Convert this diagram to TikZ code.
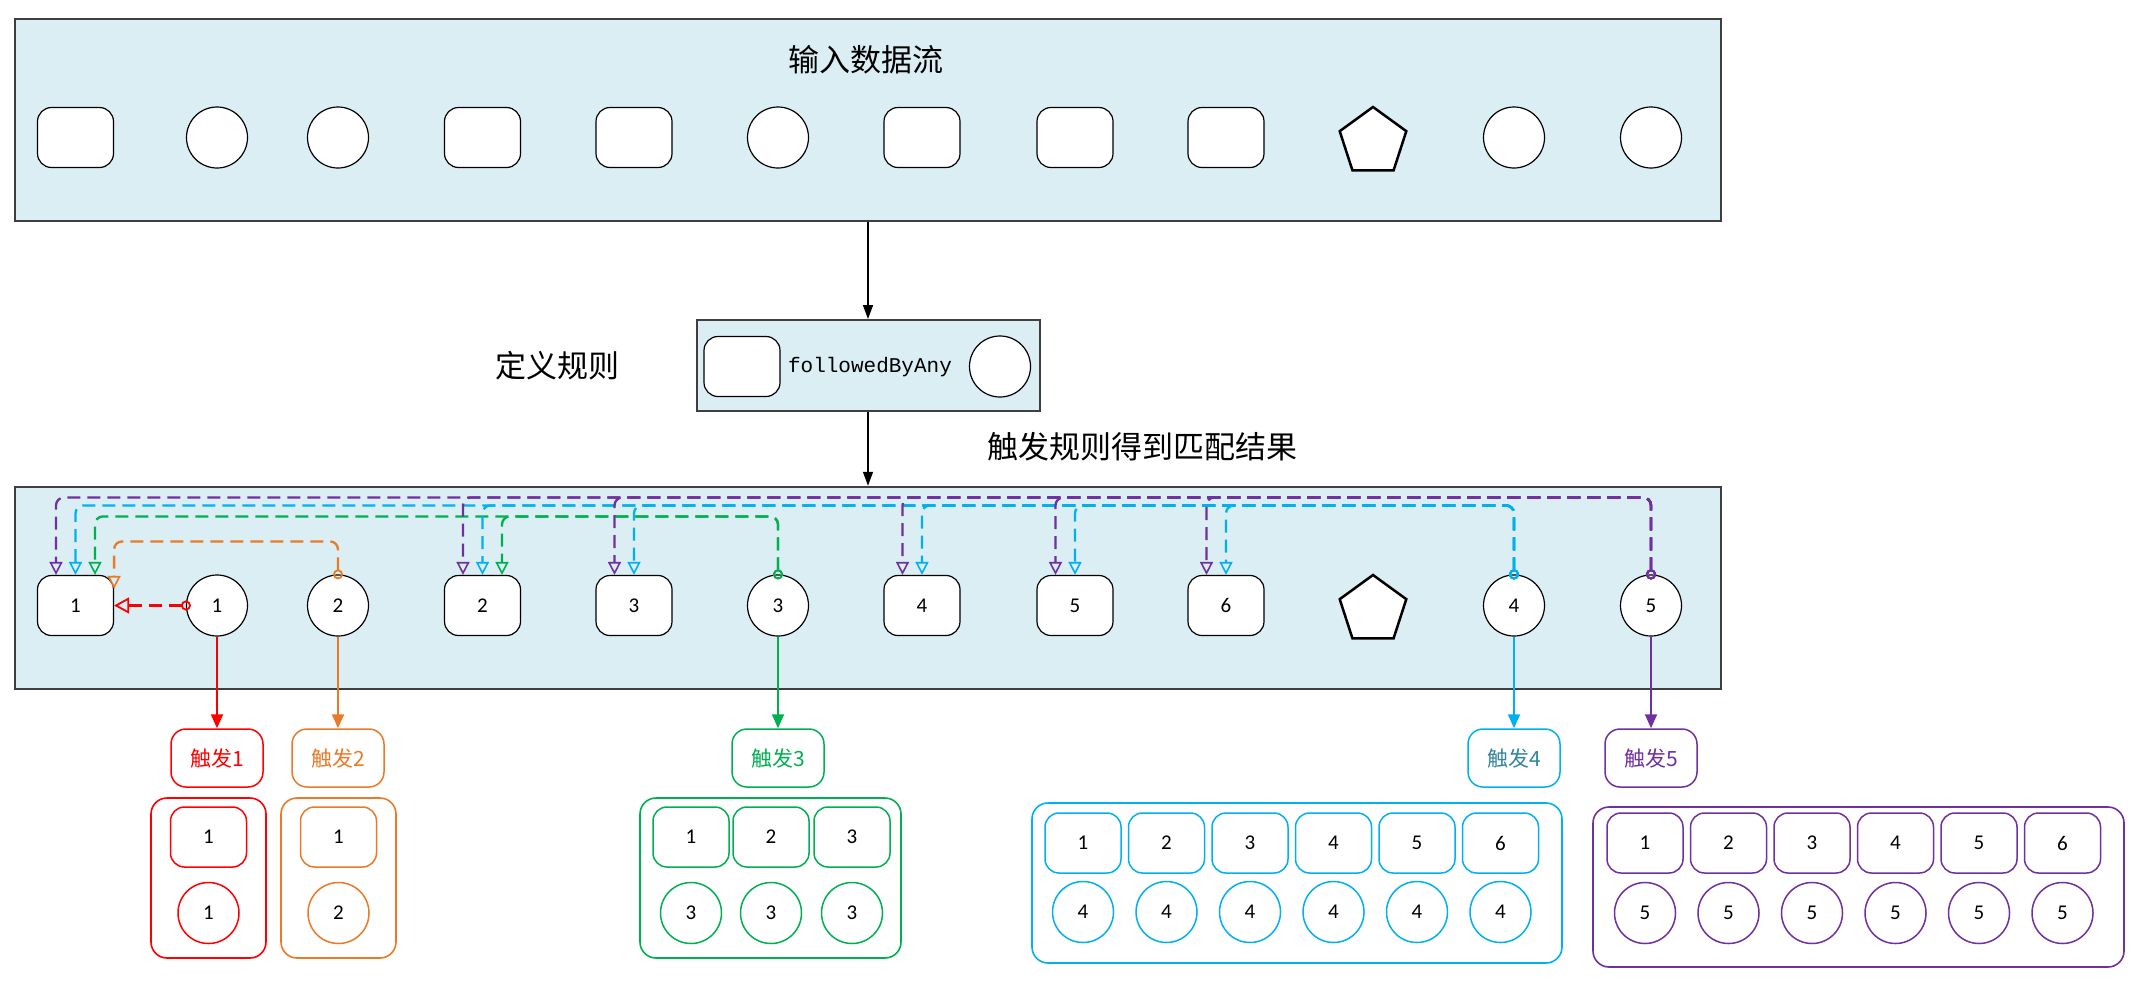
\documentclass[tikz,border=0pt]{standalone}
\usepackage{fontspec}
\setmainfont{Carlito}
\newfontfamily\cjk{Noto Sans CJK SC}
\newfontfamily\codefont{Liberation Mono}
\usetikzlibrary{arrows.meta}
\usetikzlibrary{shapes.geometric}
\usetikzlibrary{calc}
\definecolor{BoxFill}{HTML}{DAEEF3}
\definecolor{BoxLine}{HTML}{3F3F3F}
\definecolor{MatchRed}{HTML}{FF0000}
\definecolor{MatchOrange}{HTML}{E97A28}
\definecolor{MatchGreen}{HTML}{00B050}
\definecolor{MatchCyan}{HTML}{00B0F0}
\definecolor{MatchPurple}{HTML}{7030A0}
\definecolor{MatchTeal}{HTML}{31859C}
\tikzstyle{StreamBox}=[rectangle, draw=BoxLine, line width=2.5pt, fill=BoxFill, inner sep=0pt]
\tikzstyle{EventNode}=[rectangle, rounded corners=14pt, draw=black, line width=1.2pt, fill=white, minimum width=76pt, minimum height=60pt, inner sep=0pt, font=\fontsize{21}{24}\selectfont]
\tikzstyle{MatchNode}=[circle, draw=black, line width=1.2pt, fill=white, minimum size=61pt, inner sep=0pt, font=\fontsize{21}{24}\selectfont]
\tikzstyle{OtherNode}=[regular polygon, regular polygon sides=5, draw=black, line width=2.5pt, fill=white, minimum size=70pt, inner sep=0pt]
\tikzstyle{HeadText}=[font=\cjk\fontsize{31}{36}\selectfont, inner sep=0pt]
\tikzstyle{TriggerNode}=[rectangle, rounded corners=15pt, line width=1.5pt, fill=white, minimum width=92pt, minimum height=58pt, inner sep=0pt, font=\cjk\fontsize{21}{24}\selectfont]
\tikzstyle{ResultBox}=[rectangle, rounded corners=16pt, line width=1.6pt, inner sep=0pt]
\tikzstyle{ResultEvent}=[EventNode, line width=1.5pt, font=\fontsize{21}{24}\selectfont]
\tikzstyle{ResultMatch}=[MatchNode, line width=1.5pt, font=\fontsize{21}{24}\selectfont]
\tikzstyle{FlowEdge}=[-{Triangle[length=14pt, width=10pt]}, line width=1.5pt]
\tikzstyle{FireEdge}=[-{Triangle[length=14pt, width=12pt]}, line width=2pt]
\tikzstyle{LinkEdge}=[{Circle[open, length=10pt, width=10pt, line width=1.8pt]}-{Triangle[open, length=13pt, width=13pt, line width=1.6pt]}, line width=2.3pt, dash pattern=on 13pt off 7pt, rounded corners=8pt]
\tikzstyle{RedLink}=[LinkEdge, MatchRed, {Circle[open, length=10pt, width=10pt, line width=1.8pt]}-{Triangle[open, length=15pt, width=16pt, line width=1.8pt]}]
\tikzstyle{OrangeLink}=[LinkEdge, MatchOrange]
\tikzstyle{GreenLink}=[LinkEdge, MatchGreen]
\tikzstyle{CyanLink}=[LinkEdge, MatchCyan]
\tikzstyle{PurpleLink}=[LinkEdge, MatchPurple]

\begin{document}
\begin{tikzpicture}[x=1pt, y=-1pt]
\useasboundingbox (0,0) rectangle (2144,988);

% input stream
\node[StreamBox, minimum width=1706pt, minimum height=202pt](Input) at (868,120) {};
\node[HeadText](InTitle) at (866,60) {输入数据流};
\node[EventNode](In1) at (75.5,137.5) {};
\node[MatchNode](In2) at (217,137.5) {};
\node[MatchNode](In3) at (338,137.5) {};
\node[EventNode](In4) at (482.5,137.5) {};
\node[EventNode](In5) at (634,137.5) {};
\node[MatchNode](In6) at (778,137.5) {};
\node[EventNode](In7) at (922,137.5) {};
\node[EventNode](In8) at (1075,137.5) {};
\node[EventNode](In9) at (1226,137.5) {};
\node[OtherNode](In10) at (1373,142) {};
\node[MatchNode](In11) at (1514,137.5) {};
\node[MatchNode](In12) at (1651,137.5) {};

% rule
\node[StreamBox, line width=2pt, minimum width=343pt, minimum height=91pt](Rule) at (868,365.5) {};
\node[EventNode](RuleEvent) at (742,366.5) {};
\node[font=\codefont\fontsize{21}{24}\selectfont](Op) at (870,367) {followedByAny};
\node[MatchNode](RuleMatch) at (1000,366.5) {};
\node[HeadText](RuleTitle) at (557,366) {定义规则};
\node[HeadText](OutTitle) at (1142,447) {触发规则得到匹配结果};

% output stream
\node[StreamBox, minimum width=1706pt, minimum height=202pt](Output) at (868,588) {};
\node[EventNode](A1) at (75.5,605.5) {1};
\node[MatchNode](B1) at (217,605.5) {1};
\node[MatchNode](B2) at (338,605.5) {2};
\node[EventNode](A2) at (482.5,605.5) {2};
\node[EventNode](A3) at (634,605.5) {3};
\node[MatchNode](B3) at (778,605.5) {3};
\node[EventNode](A4) at (922,605.5) {4};
\node[EventNode](A5) at (1075,605.5) {5};
\node[EventNode](A6) at (1226,605.5) {6};
\node[OtherNode](P) at (1373,610) {};
\node[MatchNode](B4) at (1514,605.5) {4};
\node[MatchNode](B5) at (1651,605.5) {5};

\draw[FlowEdge](Input) -- (Rule);
\draw[FlowEdge](Rule) -- (Output);

% matches
\draw[RedLink] ($(B1.west)+(5,0)$) -- (A1.east);
\draw[OrangeLink] ($(B2.north)+(0,5)$) -- ++(0,-38) -| ($(A1.north east)+(0,14)$);
\draw[GreenLink] ($(B3.north)+(0,5)$) -- ++(0,-63) -| ($(A1.north)+(19.5,0)$);
\draw[GreenLink] ($(B3.north)+(0,5)$) -- ++(0,-63) -| ($(A2.north)+(19.5,0)$);
\draw[CyanLink] ($(B4.north)+(0,5)$) -- ++(0,-74) -| (A1.north);
\draw[CyanLink] ($(B4.north)+(0,5)$) -- ++(0,-74) -| (A2.north);
\draw[CyanLink] ($(B4.north)+(0,5)$) -- ++(0,-74) -| (A3.north);
\draw[CyanLink] ($(B4.north)+(0,5)$) -- ++(0,-74) -| (A4.north);
\draw[CyanLink] ($(B4.north)+(0,5)$) -- ++(0,-74) -| (A5.north);
\draw[CyanLink] ($(B4.north)+(0,5)$) -- ++(0,-74) -| (A6.north);
\draw[PurpleLink] ($(B5.north)+(0,5)$) -- ++(0,-82) -| ($(A1.north)+(-19.5,0)$);
\draw[PurpleLink] ($(B5.north)+(0,5)$) -- ++(0,-82) -| ($(A2.north)+(-19.5,0)$);
\draw[PurpleLink] ($(B5.north)+(0,5)$) -- ++(0,-82) -| ($(A3.north)+(-19.5,0)$);
\draw[PurpleLink] ($(B5.north)+(0,5)$) -- ++(0,-82) -| ($(A4.north)+(-19.5,0)$);
\draw[PurpleLink] ($(B5.north)+(0,5)$) -- ++(0,-82) -| ($(A5.north)+(-19.5,0)$);
\draw[PurpleLink] ($(B5.north)+(0,5)$) -- ++(0,-82) -| ($(A6.north)+(-19.5,0)$);

% triggers
\node[TriggerNode, draw=MatchRed, text=MatchRed](T1) at (217,758) {触发1};
\node[TriggerNode, draw=MatchOrange, text=MatchOrange](T2) at (338,758) {触发2};
\node[TriggerNode, draw=MatchGreen, text=MatchGreen](T3) at (778,758) {触发3};
\node[TriggerNode, draw=MatchCyan, text=MatchTeal](T4) at (1514,758) {触发4};
\node[TriggerNode, draw=MatchPurple, text=MatchPurple](T5) at (1651,758) {触发5};
\draw[FireEdge, MatchRed](B1) -- (T1);
\draw[FireEdge, MatchOrange](B2) -- (T2);
\draw[FireEdge, MatchGreen](B3) -- (T3);
\draw[FireEdge, MatchCyan](B4) -- (T4);
\draw[FireEdge, MatchPurple](B5) -- (T5);

% results
\node[ResultBox, draw=MatchRed, minimum width=115pt, minimum height=160pt](R1) at (208.5,878) {};
\node[ResultEvent, draw=MatchRed](R1E1) at (208.5,837) {1};
\node[ResultMatch, draw=MatchRed](R1M1) at (208.5,913) {1};

\node[ResultBox, draw=MatchOrange, minimum width=115pt, minimum height=160pt](R2) at (338.5,878) {};
\node[ResultEvent, draw=MatchOrange](R2E1) at (338.5,837) {1};
\node[ResultMatch, draw=MatchOrange](R2M1) at (338.5,913) {2};

\node[ResultBox, draw=MatchGreen, minimum width=261pt, minimum height=160pt](R3) at (770.5,878) {};
\node[ResultEvent, draw=MatchGreen](R3E1) at (691,837) {1};
\node[ResultEvent, draw=MatchGreen](R3E2) at (771,837) {2};
\node[ResultEvent, draw=MatchGreen](R3E3) at (852,837) {3};
\node[ResultMatch, draw=MatchGreen](R3M1) at (691,913) {3};
\node[ResultMatch, draw=MatchGreen](R3M2) at (771,913) {3};
\node[ResultMatch, draw=MatchGreen](R3M3) at (852,913) {3};

\node[ResultBox, draw=MatchCyan, minimum width=530pt, minimum height=160pt](R4) at (1297,883) {};
\node[ResultEvent, draw=MatchCyan](R4E1) at (1083,843) {1};
\node[ResultEvent, draw=MatchCyan](R4E2) at (1166.5,843) {2};
\node[ResultEvent, draw=MatchCyan](R4E3) at (1250,843) {3};
\node[ResultEvent, draw=MatchCyan](R4E4) at (1333.5,843) {4};
\node[ResultEvent, draw=MatchCyan](R4E5) at (1417,843) {5};
\node[ResultEvent, draw=MatchCyan](R4E6) at (1500.5,843) {6};
\node[ResultMatch, draw=MatchCyan](R4M1) at (1083,912) {4};
\node[ResultMatch, draw=MatchCyan](R4M2) at (1166.5,912) {4};
\node[ResultMatch, draw=MatchCyan](R4M3) at (1250,912) {4};
\node[ResultMatch, draw=MatchCyan](R4M4) at (1333.5,912) {4};
\node[ResultMatch, draw=MatchCyan](R4M5) at (1417,912) {4};
\node[ResultMatch, draw=MatchCyan](R4M6) at (1500.5,912) {4};

\node[ResultBox, draw=MatchPurple, minimum width=531pt, minimum height=160pt](R5) at (1858.5,887) {};
\node[ResultEvent, draw=MatchPurple](R5E1) at (1645,843) {1};
\node[ResultEvent, draw=MatchPurple](R5E2) at (1728.5,843) {2};
\node[ResultEvent, draw=MatchPurple](R5E3) at (1812,843) {3};
\node[ResultEvent, draw=MatchPurple](R5E4) at (1895.5,843) {4};
\node[ResultEvent, draw=MatchPurple](R5E5) at (1979,843) {5};
\node[ResultEvent, draw=MatchPurple](R5E6) at (2062.5,843) {6};
\node[ResultMatch, draw=MatchPurple](R5M1) at (1645,913) {5};
\node[ResultMatch, draw=MatchPurple](R5M2) at (1728.5,913) {5};
\node[ResultMatch, draw=MatchPurple](R5M3) at (1812,913) {5};
\node[ResultMatch, draw=MatchPurple](R5M4) at (1895.5,913) {5};
\node[ResultMatch, draw=MatchPurple](R5M5) at (1979,913) {5};
\node[ResultMatch, draw=MatchPurple](R5M6) at (2062.5,913) {5};
\end{tikzpicture}
\end{document}
